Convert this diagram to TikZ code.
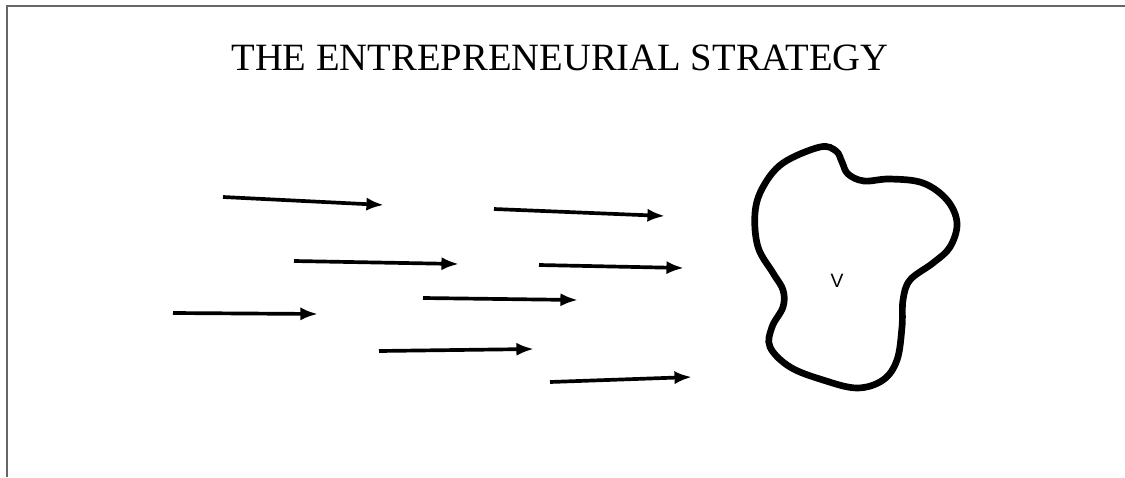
\documentclass[tikz,border=0pt]{standalone}
\usepackage{fontspec}
\setmainfont{Liberation Serif}
\setsansfont{Liberation Sans}
\usetikzlibrary{arrows.meta}
\begin{document}
\begin{tikzpicture}[x=0.02cm,y=-0.02cm,line width = 2.1pt,
  push/.style={-{Latex[length=10pt,width=7.5pt]}},
  frameline/.style={line width=0.8pt,color=black!60}]
\useasboundingbox (0,0) rectangle (1125,477);
\draw [frameline] (7,477) -- (7,6) -- (1125,6);
\node (title) at (560,58) {\fontsize{22pt}{26pt}\selectfont THE ENTREPRENEURIAL STRATEGY};
\coordinate (p1) at (223,197); \coordinate (q1) at (384,205);
\coordinate (p2) at (494,209); \coordinate (q2) at (665,216);
\coordinate (p3) at (294,261); \coordinate (q3) at (459,264);
\coordinate (p4) at (539,265); \coordinate (q4) at (684,268);
\coordinate (p5) at (173,313); \coordinate (q5) at (318,314);
\coordinate (p6) at (423,298); \coordinate (q6) at (578,300);
\coordinate (p7) at (379,351); \coordinate (q7) at (534,349);
\coordinate (p8) at (550,382); \coordinate (q8) at (692,377);
\draw [push] (p1) -- (q1);
\draw [push] (p2) -- (q2);
\draw [push] (p3) -- (q3);
\draw [push] (p4) -- (q4);
\draw [push] (p5) -- (q5);
\draw [push] (p6) -- (q6);
\draw [push] (p7) -- (q7);
\draw [push] (p8) -- (q8);
\draw [line width = 3.8pt] plot [smooth cycle, tension=0.6] coordinates {
  (820,147) (836,151) (842,162) (848,174) (864,181) (890,179) (923,183)
  (947,200) (957,223) (950,247) (933,263) (910,280) (903,300) (902,327)
  (897,360) (883,380) (857,388) (823,380) (790,367) (770,347) (772,327)
  (783,307) (783,290) (773,273) (758,247) (755,213) (763,187) (783,163)};
\node (v) at (837,281) {\sffamily\fontsize{11pt}{12pt}\selectfont V};
\end{tikzpicture}
\end{document}
